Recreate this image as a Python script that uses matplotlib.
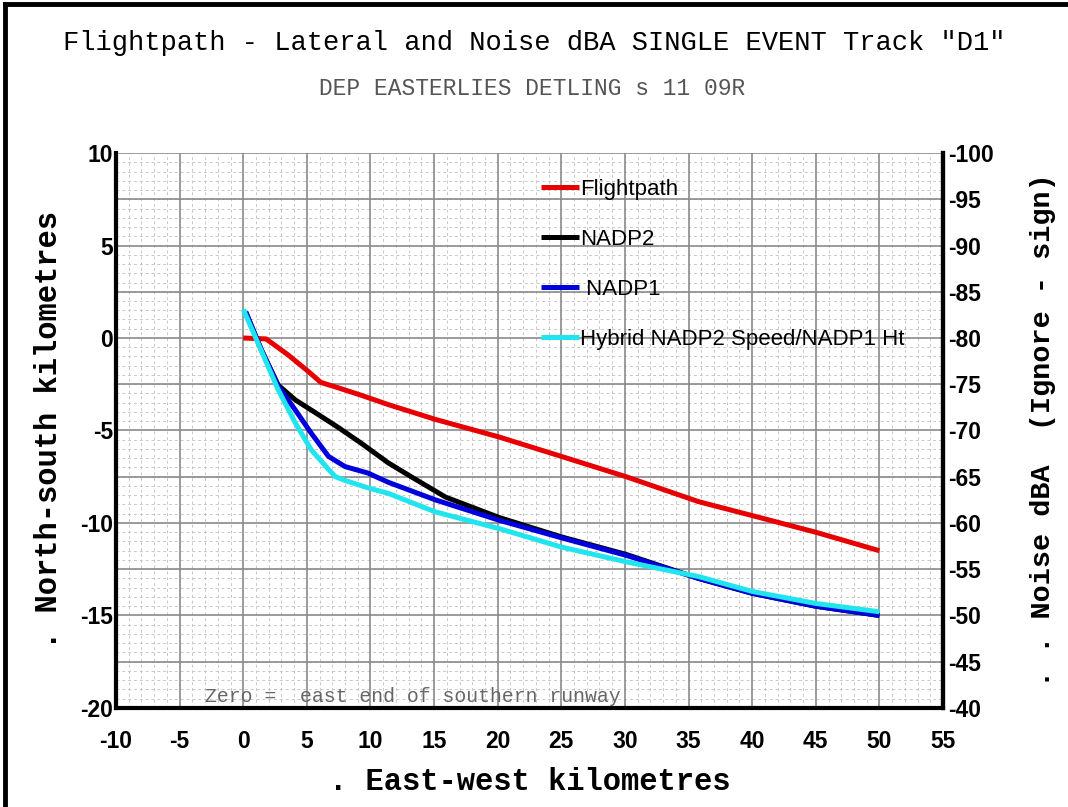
import numpy as np
import matplotlib
matplotlib.use("Agg")
import matplotlib.pyplot as plt
from matplotlib.lines import Line2D

# ---------- data ----------
fp_x = [0, 1.8, 3.5, 5.1, 6.1, 7.5, 9.3, 11.4, 15.1, 20.1, 25, 30.1, 35.8, 40, 45, 50]
fp_y = [0, -0.05, -0.9, -1.8, -2.4, -2.7, -3.1, -3.6, -4.4, -5.35, -6.4, -7.5, -8.85, -9.6, -10.5, -11.5]

nadp2_x = [0.2, 1.4, 2.75, 4.1, 5.7, 7.5, 9.3, 11.4, 13.2, 15.9, 20.1, 25, 30.1, 35.8, 40, 45, 50]
nadp2_y = [1.4, -0.6, -2.55, -3.35, -4.05, -4.85, -5.7, -6.75, -7.5, -8.6, -9.7, -10.75, -11.7, -13.0, -13.8, -14.5, -15.0]

nadp1_x = [0.2, 1.4, 2.75, 4.1, 5.35, 6.7, 8.0, 9.8, 11.4, 15.1, 20.1, 25, 30.1, 35.8, 40, 45, 50]
nadp1_y = [1.4, -0.6, -2.6, -3.9, -5.15, -6.4, -6.95, -7.3, -7.8, -8.75, -9.85, -10.8, -11.75, -13.0, -13.8, -14.5, -15.0]

hyb_x = [0, 1.4, 2.75, 4.1, 5.35, 6.7, 7.25, 8.0, 9.8, 11.4, 15.1, 20.1, 25, 30.1, 35.8, 40, 45, 50]
hyb_y = [1.55, -0.65, -2.8, -4.6, -6.05, -7.1, -7.5, -7.7, -8.1, -8.4, -9.4, -10.3, -11.3, -12.1, -12.9, -13.7, -14.35, -14.8]

x_ticks = list(range(-10, 56, 5))
y_ticks = list(range(-20, 11, 5))
noise_ticks = list(range(-100, -39, 5))

title = 'Flightpath - Lateral and Noise dBA SINGLE EVENT Track "D1"'
subtitle = "DEP EASTERLIES DETLING s 11 09R"
note = "Zero =  east end of southern runway"

mono = "Liberation Mono"
sans = "Liberation Sans"

# ---------- figure ----------
fig = plt.figure(figsize=(10.68, 8.07), dpi=100)
ax = fig.add_axes([0.1086, 0.1227, 0.7744, 0.6877])

ax.plot(fp_x, fp_y, color="#e60000", lw=3.6, label="Flightpath", solid_capstyle="butt")
ax.plot(nadp2_x, nadp2_y, color="black", lw=3.6, label="NADP2", solid_capstyle="butt")
ax.plot(nadp1_x, nadp1_y, color="#0000dc", lw=3.6, label=" NADP1", solid_capstyle="butt")
ax.plot(hyb_x, hyb_y, color="#20e4ee", lw=3.6, label="Hybrid NADP2 Speed/NADP1 Ht", solid_capstyle="butt")

ax.set_xlim(-10, 55)
ax.set_ylim(-20, 10)
ax.set_xticks(x_ticks)
ax.set_yticks(y_ticks)
ax.set_xticklabels([str(v) for v in x_ticks], fontsize=16.5, fontweight="bold", family=sans)
ax.set_yticklabels([str(v) for v in y_ticks], fontsize=16.5, fontweight="bold", family=sans)
ax.tick_params(axis="x", length=0, pad=16)
ax.tick_params(axis="y", length=0, pad=2)

# graph paper grid
ax.set_xticks(np.arange(-10, 55.1, 1), minor=True)
ax.set_yticks(np.arange(-20, 10.1, 0.5), minor=True)
ax.tick_params(which="minor", length=0)
ax.grid(which="minor", color="#c8c8c8", lw=0.7, linestyle=(0, (3, 3)))
for gx in x_ticks:
    ax.axvline(gx, color="#8a8a8a", lw=1.2, zorder=1)
for gy in np.arange(-20, 10.1, 2.5):
    ax.axhline(gy, color="#8a8a8a", lw=1.2, zorder=1)
ax.set_axisbelow(True)

for s in ["left", "bottom", "right"]:
    ax.spines[s].set_linewidth(3)
ax.spines["top"].set_visible(False)

ax.set_xlabel(". East-west kilometres", fontsize=22, fontweight="bold", family=mono, labelpad=10)
ax.set_ylabel(". North-south kilometres", fontsize=22, fontweight="bold", family=mono, labelpad=12)

ax.text(-3, -19.4, note, fontsize=14.3, family=mono, color="#666666", va="center", ha="left")

# right hand noise axis
ax2 = ax.twinx()
ax2.set_ylim(-40, -100)
ax2.set_yticks(noise_ticks)
ax2.set_yticklabels([str(v) for v in noise_ticks], fontsize=16.5, fontweight="bold", family=sans)
ax2.tick_params(axis="y", length=0, pad=4)
for s in ["top", "left", "bottom"]:
    ax2.spines[s].set_visible(False)
ax2.spines["right"].set_linewidth(3)
ax2.set_ylabel(". . Noise dBA  (Ignore - sign)", fontsize=20.5, fontweight="bold", family=mono, labelpad=26)

leg = ax.legend(loc="upper left", bbox_to_anchor=(0.514, 0.953), frameon=False,
                handlelength=1.7, handletextpad=0.05, labelspacing=1.3,
                borderpad=0, borderaxespad=0, prop={"family": sans, "size": 16})

# titles
fig.text(0.500, 0.947, title, ha="center", va="center", fontsize=19.5, family=mono, color="black")
fig.text(0.498, 0.890, subtitle, ha="center", va="center", fontsize=16.5, family=mono, color="#555555")

# page border (left + top)
fig.add_artist(Line2D([0.005, 0.005], [0, 0.995], transform=fig.transFigure, color="black", lw=3.5))
fig.add_artist(Line2D([0.005, 1.0], [0.995, 0.995], transform=fig.transFigure, color="black", lw=3.5))

fig.savefig("out.png", dpi=100)
